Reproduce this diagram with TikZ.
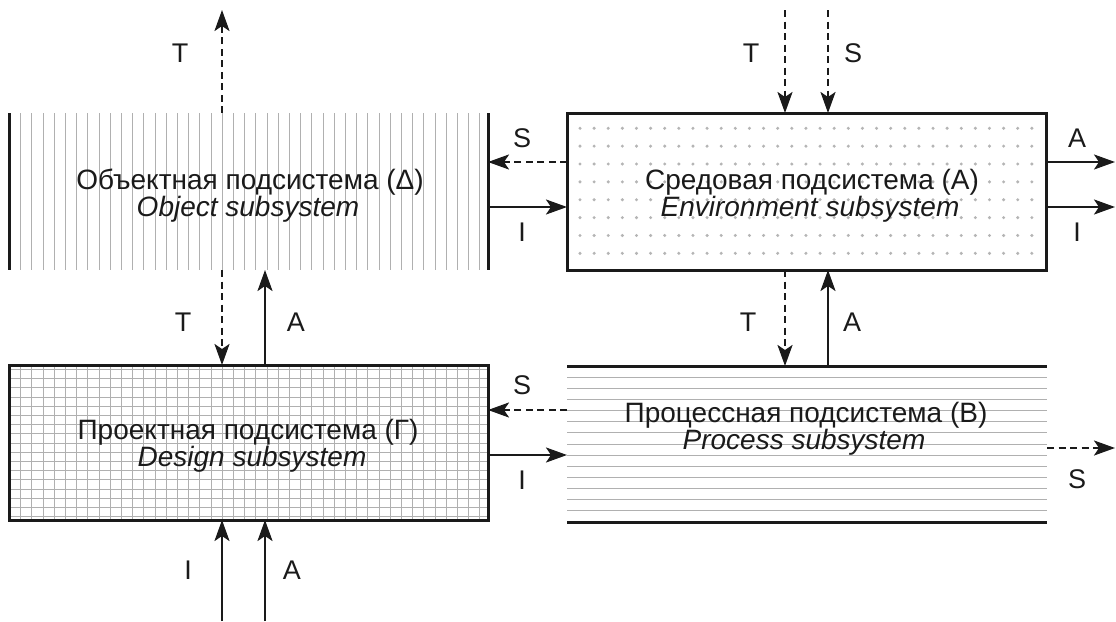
\documentclass[tikz,border=0pt]{standalone}
\usepackage{fontspec}
\setmainfont{Liberation Sans}
\usetikzlibrary{arrows.meta,calc}
\definecolor{ink}{HTML}{1A1A1A}
\definecolor{hatchgray}{HTML}{B0B0B0}
\definecolor{dotgray}{HTML}{B5B5B5}
\begin{document}
\begin{tikzpicture}[x=1pt,y=-1pt,
  box/.style={draw=ink,line width=3pt,minimum width=479pt,minimum height=157pt,inner sep=0pt,outer sep=0pt},
  openbox/.style={minimum width=479pt,minimum height=157pt,inner sep=0pt,outer sep=0pt},
  edge/.style={draw=ink,line width=3pt},
  hatch/.style={draw=hatchgray,line width=1pt},
  flow/.style={draw=ink,line width=2.4pt,-{Stealth[length=21pt,width=15pt,inset=5pt]}},
  dflow/.style={flow,dash pattern=on 7pt off 4.5pt},
  lbl/.style={font=\fontsize{27}{27}\selectfont,text=ink,inner sep=0pt},
  ttl/.style={font=\fontsize{28}{28}\selectfont,text=ink,inner sep=0pt,anchor=base},
  sub/.style={font=\fontsize{28}{28}\selectfont\itshape,text=ink,inner sep=0pt,anchor=base}
]
\useasboundingbox (0,0) rectangle (1116,621);

% ---- hatching and fills
\foreach \k in {0,...,41} \draw[hatch] ({20.7+11.2*\k},113) -- ({20.7+11.2*\k},270);
\foreach \k in {0,...,41} \draw[hatch] ({20.7+11.2*\k},365) -- ({20.7+11.2*\k},520);
\foreach \k in {0,...,16} \draw[hatch] (9,{369.4+9.2*\k}) -- (488,{369.4+9.2*\k});
\foreach \k in {1,...,13} \draw[hatch] (567,{366+11.143*\k}) -- (1047,{366+11.143*\k});
\foreach \i in {0,...,32} \foreach \j in {0,...,7}
  \fill[dotgray] ({580+14.12*\i},{128.3+17.86*\j}) circle (1.7pt);

% ---- boxes
\node[openbox] (obj) at (248.5,191.5) {};
\node[box] (env) at (806.5,191.5) {};
\node[box,minimum height=155pt] (des) at (248.5,442.5) {};
\node[openbox,minimum width=480pt,minimum height=156pt] (proc) at (807,444) {};
\draw[edge] (obj.north west) -- (obj.south west);
\draw[edge] (obj.north east) -- (obj.south east);
\draw[edge] (proc.north west) -- (proc.north east);
\draw[edge] (proc.south west) -- (proc.south east);

% ---- texts
\node[ttl] (objA) at (250,189) {Объектная подсистема (Δ)};
\node[sub] (objB) at (248,216) {Object subsystem};
\node[ttl] (envA) at (812,189) {Средовая подсистема (А)};
\node[sub] (envB) at (810,216) {Environment subsystem};
\node[ttl] (desA) at (248,439) {Проектная подсистема (Г)};
\node[sub] (desB) at (252,466) {Design subsystem};
\node[ttl] (procA) at (806,422) {Процессная подсистема (В)};
\node[sub] (procB) at (804,449) {Process subsystem};

% ---- helper coordinates
\coordinate (xa) at (222,0);
\coordinate (xb) at (265,0);
\coordinate (xc) at (785,0);
\coordinate (xd) at (828,0);
\coordinate (ya) at (0,162);
\coordinate (yb) at (0,207);
\coordinate (yc) at (0,410);
\coordinate (yd) at (0,455);
\coordinate (ye) at (0,448);
\coordinate (topT) at (222,10);
\coordinate (inT) at (785,10);
\coordinate (inS) at (828,10);
\coordinate (outA) at (1115,162);
\coordinate (outI) at (1115,207);
\coordinate (outS) at (1115,448);
\coordinate (inI) at (222,621);
\coordinate (inA) at (265,621);

% ---- connectors
\draw[dflow] (obj.north -| xa) -- (topT);
\draw[dflow] (inT) -- (env.north -| xc);
\draw[dflow] (inS) -- (env.north -| xd);
\draw[flow] (env.east |- ya) -- (outA);
\draw[flow] (env.east |- yb) -- (outI);
\draw[dflow] (env.west |- ya) -- (obj.east |- ya);
\draw[flow] (obj.east |- yb) -- (env.west |- yb);
\draw[dflow] (obj.south -| xa) -- (des.north -| xa);
\draw[flow] (des.north -| xb) -- (obj.south -| xb);
\draw[dflow] (env.south -| xc) -- (proc.north -| xc);
\draw[flow] (proc.north -| xd) -- (env.south -| xd);
\draw[dflow] (proc.west |- yc) -- (des.east |- yc);
\draw[flow] (des.east |- yd) -- (proc.west |- yd);
\draw[dflow] (proc.east |- ye) -- (outS);
\draw[flow] (inI) -- (des.south -| xa);
\draw[flow] (inA) -- (des.south -| xb);

% ---- labels
\node[lbl] (l1) at (180,53) {T};
\node[lbl] (l2) at (751,53) {T};
\node[lbl] (l3) at (853,53) {S};
\node[lbl] (l4) at (522,138) {S};
\node[lbl] (l5) at (522,232) {I};
\node[lbl] (l6) at (1077,138) {A};
\node[lbl] (l7) at (1077,232) {I};
\node[lbl] (l8) at (183,322) {T};
\node[lbl] (l9) at (296,322) {A};
\node[lbl] (l10) at (748,322) {T};
\node[lbl] (l11) at (852,322) {A};
\node[lbl] (l12) at (522,385) {S};
\node[lbl] (l13) at (522,480) {I};
\node[lbl] (l14) at (1077,479) {S};
\node[lbl] (l15) at (188,570) {I};
\node[lbl] (l16) at (292,570) {A};
\end{tikzpicture}
\end{document}
